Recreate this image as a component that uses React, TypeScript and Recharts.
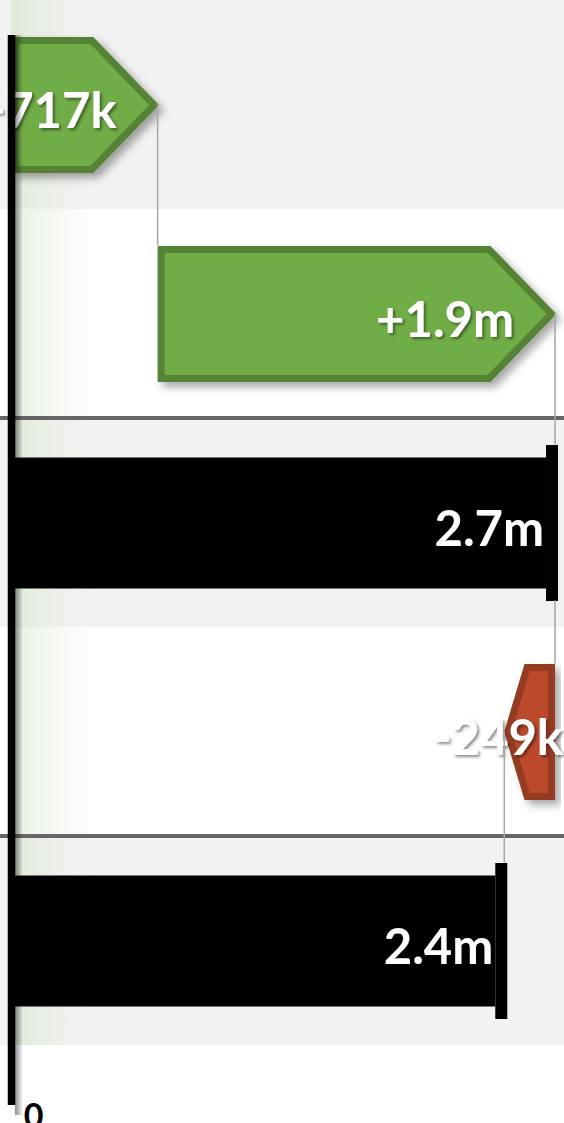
import { Bar, BarChart, ReferenceArea, ReferenceLine, XAxis, YAxis } from "recharts";

// waterfall steps, top to bottom
const steps = ["Opening", "Growth", "Subtotal", "Churn", "Closing"];
const kinds = ["up", "up", "total", "down", "total"];
const starts = [0, 0.717, 0, 2.418, 0];
const deltas = [0.717, 1.95, 2.667, 0.249, 2.418];
const valueLabels = ["+717k", "+1.9m", "2.7m", "-249k", "2.4m"];
const bandFills = ["#f2f2f2", "#ffffff", "#f2f2f2", "#ffffff", "#f2f2f2"];
const axisTicks = [0];

const BAR = 136;
const CAP = 10;

const data = steps.map((name, i) => ({
    name,
    kind: kinds[i],
    start: starts[i],
    delta: deltas[i],
    label: valueLabels[i],
}));

// where each step ends, used for the thin connectors
const ends = data.map((d) => (d.kind === "up" ? d.start + d.delta : d.kind === "down" ? d.start : d.delta));

const StepShape = (props: any) => {
    const { x, y, width, height, payload } = props;
    const cy = y + height / 2;
    const s = 3.5;
    let body;
    let tx = x + width;
    if (payload.kind === "up") {
        const tip = Math.min(66, width * 0.45);
        const pts = [
            [x + s, y + s],
            [x + width - tip, y + s],
            [x + width - s, cy],
            [x + width - tip, y + height - s],
            [x + s, y + height - s],
        ];
        body = <polygon points={pts.map((p) => p.join(",")).join(" ")} fill="#70ad47" stroke="#548235" strokeWidth={7} filter="url(#dropShadow)" />;
        tx = x + width - 41;
    } else if (payload.kind === "down") {
        const tip = Math.min(66, width * 0.45);
        const pts = [
            [x + width - s, y + s],
            [x + width - s, y + height - s],
            [x + tip, y + height - s],
            [x + s, cy],
            [x + tip, y + s],
        ];
        body = <polygon points={pts.map((p) => p.join(",")).join(" ")} fill="#bc4a2c" stroke="#943b22" strokeWidth={7} filter="url(#dropShadow)" />;
        tx = x + width + 8;
    } else {
        body = (
            <g>
                <rect x={x - 1} y={y + 2.5} width={width - 8} height={height - 5} fill="#000" />
                <rect x={x + width - 9} y={y - CAP} width={12} height={height + 2 * CAP} fill="#000" />
            </g>
        );
        tx = x + width - 11;
    }
    return (
        <g>
            {body}
            <text x={tx} y={cy + 23} textAnchor="end" fill="#fff" fontFamily="Lato, sans-serif" fontWeight={700} fontSize={49} filter="url(#textShadow)">
                {payload.label}
            </text>
        </g>
    );
};

// connector from the end of one step to the edge of the next
const connectorShape = (fromKind: string, toKind: string) => (props: any) => {
    const { x1, y1, y2 } = props;
    const top = Math.min(y1, y2) + (fromKind === "total" ? BAR / 2 + CAP : 0);
    const bottom = Math.max(y1, y2) - (toKind === "total" ? BAR / 2 + CAP : BAR / 2);
    return <line x1={x1} x2={x1} y1={top} y2={bottom} stroke="#a6a6a6" strokeWidth={1.5} />;
};

const AxisShape = (props: any) => {
    const { x1, y1, y2 } = props;
    const top = Math.min(y1, y2);
    const bottom = Math.max(y1, y2);
    return (
        <g>
            <rect x={x1 + 3.5} y={top + 35} width={8} height={bottom - top + 35} fill="url(#axisShade)" />
            <line x1={x1} x2={x1} y1={top + 35} y2={bottom + 60} stroke="#000" strokeWidth={7.5} />
        </g>
    );
};

const ZeroTick = (props: any) => {
    const { x, payload } = props;
    return (
        <text x={x + 22} y={1128} textAnchor="middle" fill="#000" fontFamily="Lato, sans-serif" fontWeight={700} fontSize={34}>
            {payload.value}
        </text>
    );
};

const App = () => {
    return (
        <div style={{ position: "absolute", left: 0, top: 0, width: 564, height: 1123, background: "#fff" }}>
            <BarChart width={564} height={1123} data={data} layout="vertical" barSize={BAR} margin={{ top: 0, right: 0, bottom: 0, left: 0 }}>
                <defs>
                    <filter id="dropShadow" x="-10%" y="-10%" width="130%" height="130%">
                        <feDropShadow dx={5} dy={5} stdDeviation={4} floodColor="#000" floodOpacity={0.35} />
                    </filter>
                    <filter id="textShadow" x="-10%" y="-20%" width="130%" height="150%">
                        <feDropShadow dx={2} dy={2} stdDeviation={1.5} floodColor="#000" floodOpacity={0.45} />
                    </filter>
                    <linearGradient id="axisGlow" x1="0" y1="0" x2="1" y2="0">
                        <stop offset="0%" stopColor="#cfe3c2" stopOpacity={0.55} />
                        <stop offset="100%" stopColor="#e8f2e0" stopOpacity={0.1} />
                    </linearGradient>
                    <linearGradient id="axisShade" x1="0" y1="0" x2="1" y2="0">
                        <stop offset="0%" stopColor="#000" stopOpacity={0.45} />
                        <stop offset="100%" stopColor="#000" stopOpacity={0} />
                    </linearGradient>
                </defs>
                {steps.map((s, i) => (
                    <ReferenceArea key={`band-${s}`} y1={s} y2={s} fill={bandFills[i]} fillOpacity={1} stroke="none" />
                ))}
                <ReferenceArea x1={0} x2={0.38} fill="url(#axisGlow)" fillOpacity={1} stroke="none" />
                <ReferenceLine y={steps[2]} position="start" stroke="#666" strokeWidth={4} />
                <ReferenceLine y={steps[4]} position="start" stroke="#666" strokeWidth={4} />
                {ends.slice(0, -1).map((v, i) => (
                    <ReferenceLine
                        key={`conn-${i}`}
                        segment={[{ x: v, y: steps[i] }, { x: v, y: steps[i + 1] }]}
                        shape={connectorShape(kinds[i], kinds[i + 1])}
                    />
                ))}
                <XAxis type="number" domain={[-0.0564, 2.711]} ticks={axisTicks} allowDataOverflow height={78} axisLine={false} tickLine={false} tick={<ZeroTick />} />
                <YAxis type="category" dataKey="name" hide />
                <Bar dataKey="start" stackId="w" fill="transparent" isAnimationActive={false} />
                <Bar dataKey="delta" stackId="w" shape={StepShape} isAnimationActive={false} />
                <ReferenceLine x={0} ifOverflow="visible" shape={AxisShape} />
            </BarChart>
        </div>
    );
};

export default App;
